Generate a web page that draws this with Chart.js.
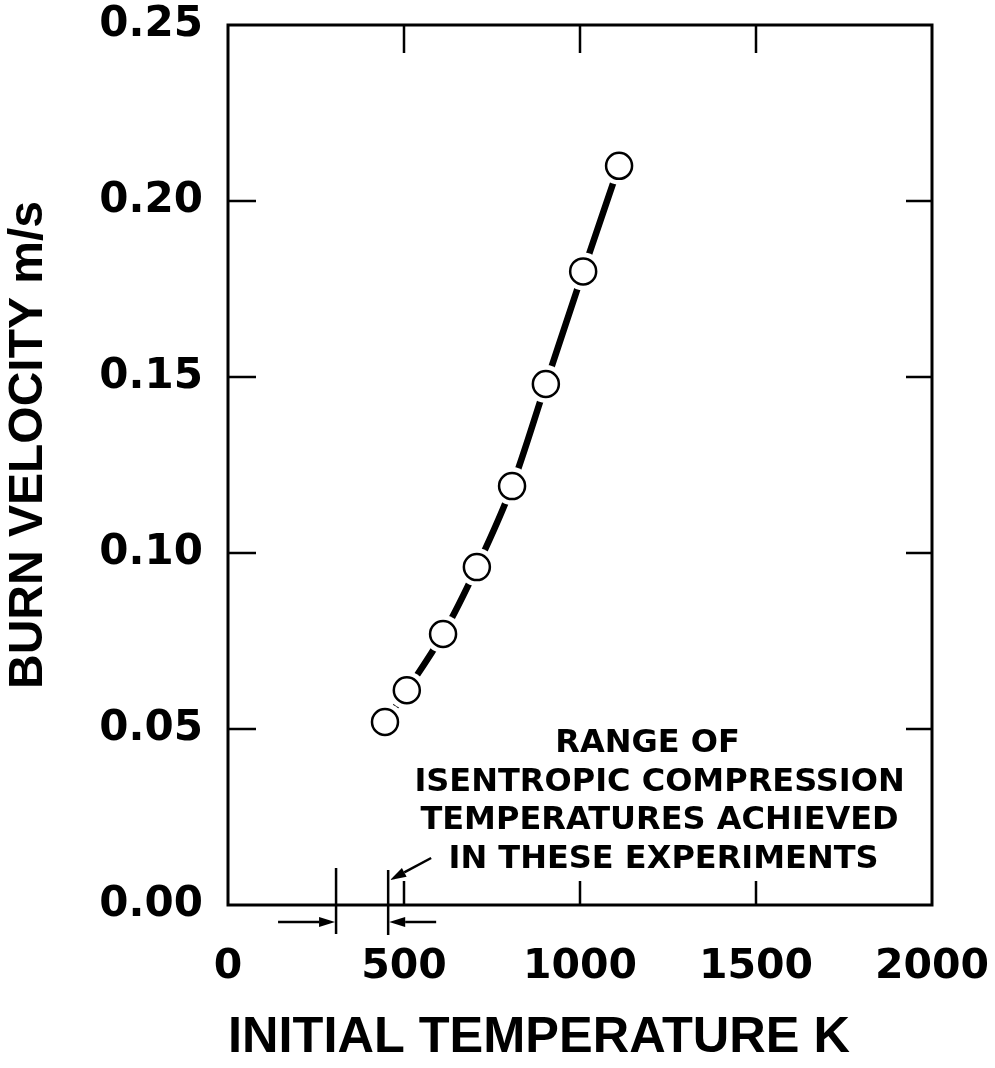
<!DOCTYPE html>
<html>
<head>
<meta charset="utf-8">
<title>Burn velocity vs initial temperature</title>
<script src="https://cdn.jsdelivr.net/npm/chart.js@4.4.1/dist/chart.umd.min.js"></script>
<style>
  html, body { margin: 0; padding: 0; background: #fff; }
  #wrap { width: 995px; height: 1068px; }
</style>
</head>
<body>
<div id="wrap"><canvas id="chart" width="995" height="1068"></canvas></div>
<script>
// values
const temps = [446, 508, 611, 707, 807, 903, 1009, 1111];        // K
const velocity = [0.052, 0.061, 0.077, 0.096, 0.119, 0.148, 0.180, 0.210]; // m/s
const xTicks = [0, 500, 1000, 1500, 2000];
const yTicks = [0, 0.05, 0.10, 0.15, 0.20, 0.25];
const rangeLow = 307;   // K, left bracket line
const rangeHigh = 455;  // K, right bracket line
const noteLines = ["RANGE OF", "ISENTROPIC COMPRESSION", "TEMPERATURES ACHIEVED", "IN THESE EXPERIMENTS"];

const points = temps.map((t, i) => ({x: t, y: velocity[i]}));
const INK = "#000";

// frame, inward ticks, bracket and the note
const decor = {
  id: "decor",
  afterDraw(chart) {
    const {ctx, chartArea: a, scales: {x, y}} = chart;
    ctx.save();
    ctx.strokeStyle = INK;
    ctx.fillStyle = INK;
    ctx.lineCap = "butt";

    ctx.lineWidth = 3;
    ctx.strokeRect(a.left, a.top, a.right - a.left, a.bottom - a.top);

    ctx.lineWidth = 2.5;
    ctx.beginPath();
    yTicks.slice(1, -1).forEach(v => {
      const py = y.getPixelForValue(v);
      ctx.moveTo(a.left, py); ctx.lineTo(a.left + 28, py);
      ctx.moveTo(a.right, py); ctx.lineTo(a.right - 26, py);
    });
    xTicks.slice(1, -1).forEach(v => {
      const px = x.getPixelForValue(v);
      ctx.moveTo(px, a.top); ctx.lineTo(px, a.top + 28);
      ctx.moveTo(px, a.bottom); ctx.lineTo(px, a.bottom - 24);
    });
    ctx.stroke();

    // range bracket below the axis
    const xl = x.getPixelForValue(rangeLow), xh = x.getPixelForValue(rangeHigh);
    ctx.lineWidth = 2.5;
    ctx.beginPath();
    ctx.moveTo(xl, a.bottom - 37); ctx.lineTo(xl, a.bottom + 29);
    ctx.moveTo(xh, a.bottom - 35); ctx.lineTo(xh, a.bottom + 30);
    ctx.stroke();
    const ay = a.bottom + 17;
    arrow(ctx, xl - 58, ay, xl - 1, ay);
    arrow(ctx, xh + 48, ay, xh + 1, ay);
    arrow(ctx, xh + 43, a.bottom - 47, xh + 2, a.bottom - 25);

    // note text
    ctx.font = "bold 32px 'DejaVu Sans'";
    ctx.textAlign = "center";
    ctx.textBaseline = "middle";
    const cx = x.getPixelForValue(1226);
    const y0 = y.getPixelForValue(0.0457);
    noteLines.forEach((t, i) => {
      const dx = i === 0 ? -12 : (i === 3 ? 4 : 0);
      ctx.fillText(t, cx + dx, y0 + i * 38.5);
    });
    ctx.restore();
  }
};

function arrow(ctx, x1, y1, x2, y2) {
  const ang = Math.atan2(y2 - y1, x2 - x1);
  const len = 16, half = 5;
  ctx.beginPath();
  ctx.moveTo(x1, y1);
  ctx.lineTo(x2 - len * Math.cos(ang), y2 - len * Math.sin(ang));
  ctx.stroke();
  ctx.beginPath();
  ctx.moveTo(x2, y2);
  ctx.lineTo(x2 - len * Math.cos(ang) - half * Math.sin(ang), y2 - len * Math.sin(ang) + half * Math.cos(ang));
  ctx.lineTo(x2 - len * Math.cos(ang) + half * Math.sin(ang), y2 - len * Math.sin(ang) - half * Math.cos(ang));
  ctx.closePath();
  ctx.fill();
}

new Chart(document.getElementById("chart"), {
  type: "line",
  data: {
    datasets: [
      { // curve
        data: points, order: 3, borderColor: INK, borderWidth: 6.5, borderCapStyle: "round",
        cubicInterpolationMode: "monotone", pointRadius: 0, fill: false
      },
      { // white halo that opens a gap round each circle
        data: points, order: 2, showLine: false, pointRadius: 19,
        pointBackgroundColor: "#fff", pointBorderWidth: 0
      },
      { // open circles
        data: points, order: 1, showLine: false, pointRadius: 13,
        pointBackgroundColor: "#fff", pointBorderColor: INK, pointBorderWidth: 2.5
      }
    ]
  },
  options: {
    responsive: false,
    animation: false,
    events: [],
    layout: { padding: { left: 0, top: 25, right: 63, bottom: 0 } },
    plugins: { legend: { display: false }, tooltip: { enabled: false } },
    scales: {
      x: {
        type: "linear", min: 0, max: 2000,
        grid: { display: false }, border: { display: false },
        afterBuildTicks: s => { s.ticks = xTicks.map(v => ({value: v})); },
        afterFit: s => { s.height = 163; s.paddingLeft = 0; s.paddingRight = 0; },
        ticks: { color: INK, padding: 30, maxRotation: 0, font: { family: "'DejaVu Sans'", weight: "bold", size: 41 },
                 callback: v => String(v) },
        title: { display: true, text: "INITIAL TEMPERATURE K", align: "start", color: INK,
                 padding: { top: 0, bottom: 0 }, font: { family: "'Liberation Sans'", weight: "bold", size: 50.5 } }
      },
      y: {
        type: "linear", min: 0, max: 0.25,
        grid: { display: false }, border: { display: false },
        afterBuildTicks: s => { s.ticks = yTicks.map(v => ({value: v})); },
        afterFit: s => { s.width = 228; s.paddingTop = 0; s.paddingBottom = 0; },
        ticks: { color: INK, padding: 17, font: { family: "'DejaVu Sans'", weight: "bold", size: 42 },
                 callback: v => v.toFixed(2) },
        title: { display: true, text: "\u00a0\u00a0\u00a0BURN VELOCITY m/s", color: INK,
                 padding: { top: 0, bottom: 0 }, font: { family: "'Liberation Sans'", weight: "bold", size: 48 } }
      }
    }
  },
  plugins: [decor]
});
</script>
</body>
</html>
